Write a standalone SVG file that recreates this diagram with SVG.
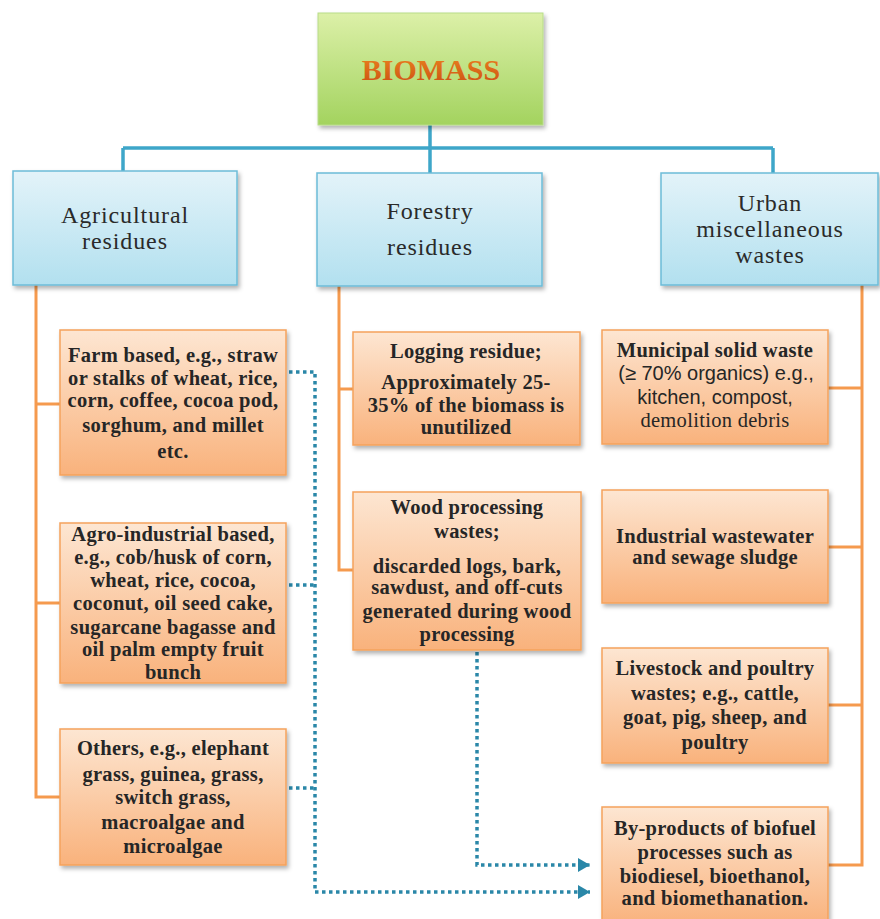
<svg xmlns="http://www.w3.org/2000/svg" width="880" height="919" viewBox="0 0 880 919">
<style>
.cat{font-family:"Liberation Serif",serif;font-size:24px;fill:#2a2a2a;text-anchor:middle;letter-spacing:0.9px}
.t{font-family:"Liberation Serif",serif;font-size:20.5px;font-weight:bold;fill:#262626;text-anchor:middle;letter-spacing:0.3px}
.s{font-family:"Liberation Sans",sans-serif;font-size:20px;fill:#262626;text-anchor:middle}
.n{font-weight:normal}
.ob{fill:url(#og);stroke:#f5a25c;stroke-width:1.5;filter:url(#sh)}
.bb{fill:url(#bg);stroke:#6cbcd8;stroke-width:1.5;filter:url(#sh)}
.oc{fill:none;stroke:#f59a4e;stroke-width:3}
.bc{fill:none;stroke:#3ea6c9;stroke-width:3.5}
.dc{fill:none;stroke:#2a87a8;stroke-width:3.5;stroke-dasharray:3.5 3.5}
</style>
<defs>
<linearGradient id="og" x1="0" y1="0" x2="0" y2="1"><stop offset="0" stop-color="#fde6d2"/><stop offset="1" stop-color="#f9b27c"/></linearGradient>
<linearGradient id="bg" x1="0" y1="0" x2="0" y2="1"><stop offset="0" stop-color="#e3f3f9"/><stop offset="1" stop-color="#b2e0ef"/></linearGradient>
<linearGradient id="gg" x1="0" y1="0" x2="0" y2="1"><stop offset="0" stop-color="#dcf0a8"/><stop offset="1" stop-color="#a3d35f"/></linearGradient>
<linearGradient id="tg" x1="0" y1="0" x2="0" y2="1"><stop offset="0" stop-color="#ec861f"/><stop offset="1" stop-color="#cc4e12"/></linearGradient>
<filter id="sh" x="-10%" y="-10%" width="125%" height="130%"><feDropShadow dx="2" dy="3" stdDeviation="2" flood-color="#000" flood-opacity="0.3"/></filter>
<marker id="ar" markerUnits="userSpaceOnUse" markerWidth="14" markerHeight="14" refX="12" refY="7" orient="auto"><path d="M0,0 L12,7 L0,14 Z" fill="#2a87a8"/></marker>
</defs>

<g id="connectors">
<path class="bc" d="M430,125 V148 M123,148 H773 M123,148 V171 M430,148 V173 M773,148 V173"/>
<path class="oc" d="M36,285 V797 H60 M36,404 H60 M36,603 H60"/>
<path class="oc" d="M339,286 V570 H353 M339,389 H353"/>
<path class="oc" d="M862,285 V865 H828 M862,388 H828 M862,547 H828 M862,705 H828"/>
<path class="dc" d="M289,372 H315 V892 H590" marker-end="url(#ar)"/>
<path class="dc" d="M289,585 H315"/>
<path class="dc" d="M289,788 H315"/>
<path class="dc" d="M477,638 V865 H590" marker-end="url(#ar)"/>
</g>

<g id="biomass">
<rect x="318" y="13" width="225" height="112" fill="url(#gg)" stroke="#b8dc88" stroke-width="1" filter="url(#sh)"/>
<text x="431" y="80" font-family="Liberation Serif,serif" font-size="30" font-weight="bold" fill="url(#tg)" text-anchor="middle">BIOMASS</text>
</g>

<g id="agricultural">
<rect class="bb" x="13" y="171" width="224" height="114"/>
<text class="cat" x="125" y="223">Agricultural</text>
<text class="cat" x="125" y="249">residues</text>
</g>
<g id="forestry">
<rect class="bb" x="317" y="173" width="225" height="113"/>
<text class="cat" x="430" y="219">Forestry</text>
<text class="cat" x="430" y="255">residues</text>
</g>
<g id="urban">
<rect class="bb" x="661" y="173" width="217" height="112"/>
<text class="cat" x="770" y="211">Urban</text>
<text class="cat" x="770" y="237">miscellaneous</text>
<text class="cat" x="770" y="263">wastes</text>
</g>

<g id="farm">
<rect class="ob" x="60" y="330" width="226" height="145"/>
<text class="t" x="173" y="362">Farm based, e.g., straw</text>
<text class="t" x="173" y="385">or stalks of wheat, rice,</text>
<text class="t" x="173" y="407">corn, coffee, cocoa pod,</text>
<text class="t" x="173" y="432">sorghum, and millet</text>
<text class="t" x="173" y="458">etc.</text>
</g>
<g id="agro">
<rect class="ob" x="60" y="523" width="226" height="160"/>
<text class="t" x="173" y="541">Agro-industrial based,</text>
<text class="t" x="173" y="564">e.g.,  cob/husk of corn,</text>
<text class="t" x="173" y="587">wheat, rice, cocoa,</text>
<text class="t" x="173" y="610">coconut, oil seed cake,</text>
<text class="t" x="173" y="634">sugarcane bagasse and</text>
<text class="t" x="173" y="656">oil palm empty fruit</text>
<text class="t" x="173" y="679">bunch</text>
</g>
<g id="others">
<rect class="ob" x="60" y="729" width="226" height="136"/>
<text class="t" x="173" y="755">Others, e.g., elephant</text>
<text class="t" x="173" y="781">grass, guinea, grass,</text>
<text class="t" x="173" y="804">switch grass,</text>
<text class="t" x="173" y="829">macroalgae and</text>
<text class="t" x="173" y="853">microalgae</text>
</g>

<g id="logging">
<rect class="ob" x="353" y="332" width="227" height="113"/>
<text class="t" x="466" y="358">Logging residue;</text>
<text class="t" x="466" y="389">Approximately 25-</text>
<text class="t" x="466" y="412">35% of the biomass is</text>
<text class="t" x="466" y="434">unutilized</text>
</g>
<g id="wood">
<rect class="ob" x="353" y="492" width="228" height="158"/>
<text class="t" x="467" y="514">Wood processing</text>
<text class="t" x="467" y="538">wastes;</text>
<text class="t" x="467" y="573">discarded logs, bark,</text>
<text class="t" x="467" y="594">sawdust, and off-cuts</text>
<text class="t" x="467" y="618">generated during wood</text>
<text class="t" x="467" y="641">processing</text>
</g>

<g id="municipal">
<rect class="ob" x="602" y="330" width="226" height="114"/>
<text class="t" x="715" y="357">Municipal solid waste</text>
<text class="s" x="716" y="380">(≥ 70% organics) e.g.,</text>
<text class="s" x="715" y="404">kitchen, compost,</text>
<text class="t n" x="715" y="427">demolition debris</text>
</g>
<g id="industrial">
<rect class="ob" x="602" y="490" width="226" height="113"/>
<text class="t" x="715" y="543">Industrial wastewater</text>
<text class="t" x="715" y="564">and sewage sludge</text>
</g>
<g id="livestock">
<rect class="ob" x="602" y="648" width="226" height="115"/>
<text class="t" x="715" y="675">Livestock and poultry</text>
<text class="t" x="715" y="700">wastes; e.g., cattle,</text>
<text class="t" x="715" y="724">goat, pig, sheep, and</text>
<text class="t" x="715" y="749">poultry</text>
</g>
<g id="byproducts">
<rect class="ob" x="602" y="807" width="226" height="118"/>
<text class="t" x="715" y="835">By-products of biofuel</text>
<text class="t" x="715" y="859">processes such as</text>
<text class="t" x="715" y="883">biodiesel, bioethanol,</text>
<text class="t" x="715" y="905">and biomethanation.</text>
</g>
</svg>
